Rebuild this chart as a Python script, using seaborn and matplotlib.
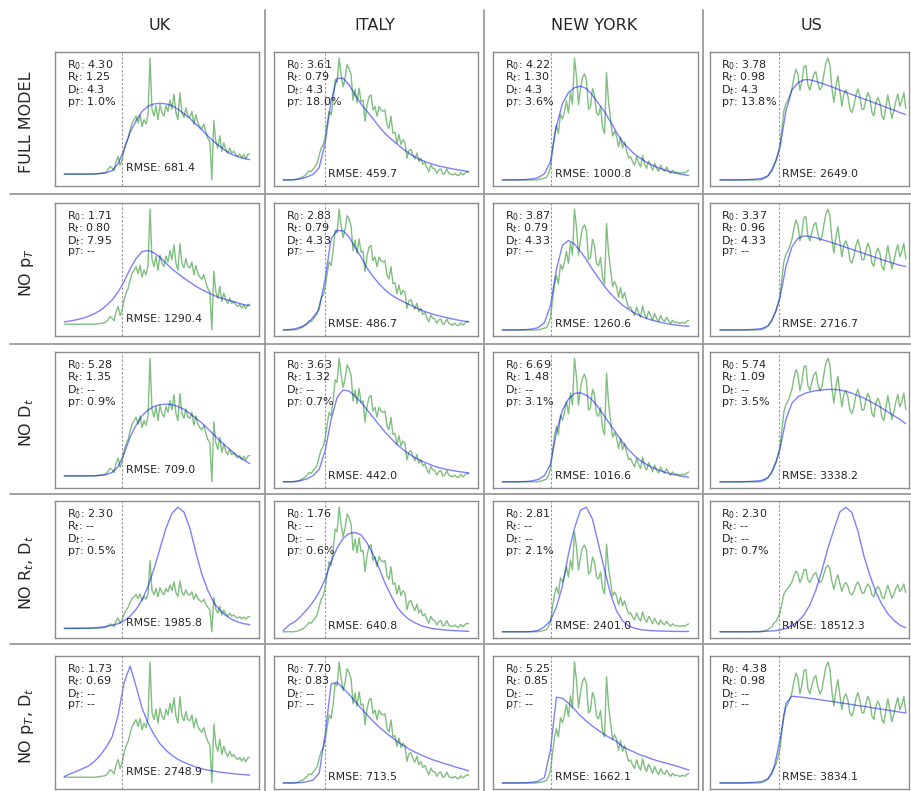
import numpy as np
import pandas as pd
import matplotlib
matplotlib.use("Agg")
import matplotlib.pyplot as plt
from matplotlib.lines import Line2D
import seaborn as sns

# ---------------- data ----------------
countries = ["UK", "ITALY", "NEW YORK", "US"]
models = ["FULL MODEL", "NO p$_T$", "NO D$_t$", "NO R$_t$, D$_t$", "NO p$_T$, D$_t$"]

days = list(range(94))
fit_days = list(range(0, 94, 3))

uk_cases = [0, 0, 0, 0, 0, 0, 0, 0, 0, 0, 0, 0, 0, 0, 0, 0,
            0, 0.5, 0.5, 1, 1, 2, 3.8, 6.6, 5.2, 2.9, 11, 15.3, 7.5, 12.4,
            21, 27, 31, 38, 44, 47, 50, 44, 51, 41, 47, 43, 51, 100, 56,
            50, 59, 47, 60, 53, 50, 59, 54, 64, 56, 69, 53, 47, 70, 53,
            49, 57, 50, 49, 54, 43, 51, 44, 41, 39, 43, 36, 31, 28, -5,
            46, 28, 22.5, 33, 19.7, 27, 21, 18, 22.5, 18, 19.7, 16.8, 15.3, 17.3, 13.9,
            16.8, 13.3, 16.8, 17.3]
italy_cases = [0, 0, 0, 0, 0, 0, 0.3, 0.5, 1, 2, 2.5, 4, 5.5, 7.5, 6.8, 9, 11, 13.6, 20, 26,
               28.6, 35, 46, 56, 53, 65, 82, 80, 99.5, 86, 76, 83, 94, 91, 86, 65, 74, 63, 75, 64,
               65, 48, 61, 68, 69.5, 57, 60, 52, 60, 57, 56, 57, 45, 42, 52, 38, 39, 30, 37, 29,
               32.7, 31, 17.7, 24, 25, 20.4, 17, 22, 15, 17.7, 12.8, 14.4, 10, 6.8, 12.3, 9.5, 9, 5.4, 8.2, 9,
               4.6, 5.4, 9, 5.4, 4.6, 4, 5.4, 4, 3.5, 6, 4, 5.4, 6.8, 6.3]
ny_cases = [0, 0, 0, 0, 0, 0, 0, 0, 0, 0, 0, 0, 0, 0, 0, 0, 0, 0, 0.3, 0.5,
            1, 1.5, 2, 5, 10, 24, 37, 45, 38, 54, 50, 56, 65, 55, 72, 62, 100, 85, 62, 75,
            84, 87, 82, 58, 60, 75, 70, 55, 53, 60, 43.5, 38, 88, 64, 50, 36, 40, 36, 27, 35,
            26, 31, 24, 18, 19, 15, 12, 19, 14, 10.6, 20, 13, 9.5, 15.5, 12, 8, 13.6, 9.5, 7, 12,
            8.5, 7, 10.6, 7.5, 5.5, 8, 6, 6.5, 5.7, 5.5, 6.3, 5.5, 7, 8]
us_cases = [0, 0, 0, 0, 0, 0, 0, 0, 0, 0, 0, 0, 0, 0, 0, 0, 0, 0, 0, 0,
            0, 0.5, 1, 2, 3.3, 5.5, 7, 13, 15, 21, 28, 42, 56, 62, 64.5, 69, 74, 83, 90, 86,
            73, 80, 92, 93, 77, 73, 80, 86, 88, 78.6, 73, 76, 86, 95, 99, 93.5, 75, 63, 76, 84.6,
            72, 60, 70, 73, 68, 57.5, 54.7, 60, 69, 74, 68, 57.5, 57.5, 65, 71, 67, 55, 52, 62.5, 67,
            63, 52, 49, 59, 69, 60, 50, 56, 64, 70, 60, 64, 71, 58]

uk_fits = [
    [0, 0, 0, 0, 0, 0.2, 0.5, 1, 3, 9, 21, 36, 46, 54, 58.5, 60.5, 61, 60.5, 59, 56, 52, 48, 43, 38, 33, 28, 24, 20, 17, 15, 13.5, 12.5],
    [2, 2.8, 3.8, 5, 6.8, 9, 12, 16, 21, 28, 37, 48, 57, 63, 64, 62, 58, 53, 48, 44, 40, 36.5, 33, 30, 27.5, 25, 23, 21.5, 20, 18.5, 17, 16],
    [0, 0, 0, 0, 0, 0.2, 0.5, 1, 3, 8, 19, 33, 43, 51, 56, 59, 60.5, 61, 60.5, 59, 56.5, 53, 49, 45, 40, 35, 30, 25.5, 21, 17, 13.5, 10.5],
    [0, 0, 0.1, 0.3, 0.5, 1, 1.7, 2.8, 4.5, 7, 11, 18, 28, 42, 62, 88, 118, 148, 170, 179, 172, 148, 112, 80, 56, 38, 27, 19, 13.5, 9.5, 7, 5.5],
    [0.6, 3, 5, 7.3, 9.6, 13.5, 19, 26, 35, 54, 82, 96.5, 79, 60, 47, 37, 29, 23.4, 19, 15.5, 12.9, 10.8, 8.8, 7.3, 6.1, 5.3, 4.4, 3.8, 3.2, 2.6, 2.3, 1.8],
]
italy_fits = [
    [0, 0, 0.3, 1, 2.5, 4.5, 10, 30, 65, 83, 83, 77.7, 69.5, 62, 56, 50, 43.6, 38, 33.5, 29.4, 25.3, 21.8, 18.8, 16.3, 14.4, 12.8, 11.4, 10.4, 9.3, 8.4, 7.6, 6.8],
    [0, 0.3, 1, 2.5, 5, 10.5, 17, 42, 75, 82, 81.5, 76.6, 68, 60, 51, 44, 38, 33, 29, 26, 23.4, 21, 18.7, 16.5, 14.6, 13, 11.6, 10.5, 9.4, 8.3, 7.4, 6.9],
    [0, 0, 0.3, 1, 2.5, 5, 10, 25, 50, 68, 74, 73, 69, 64, 58, 52, 46, 40, 35, 30, 26, 22.5, 19.5, 17, 15, 13, 11.5, 10.3, 9.3, 8.5, 7.8, 7.2],
    [1, 5.5, 8.3, 12.7, 18, 24, 31.7, 42, 56, 67, 74.6, 78.5, 79.3, 77.4, 71, 62, 51, 39, 29, 20, 14, 10, 7.2, 5, 3.6, 2.5, 2, 1.4, 1.1, 0.8, 0.6, 0.3],
    [0, 0, 0, 0.3, 1, 2.5, 8, 40, 81.4, 82.8, 78, 73, 67, 61.5, 56, 51, 46, 42, 38, 34.4, 31, 28, 25.4, 23.2, 21, 19, 17.5, 15.8, 14.5, 12.8, 11.5, 10],
]
ny_fits = [
    [0, 0, 0, 0.1, 0.3, 0.8, 2, 5, 15, 44, 62.7, 71.7, 75.7, 77, 75, 69.5, 62.7, 56, 47.7, 39, 31.3, 26, 21, 17.7, 14.4, 12, 9.8, 8.2, 6.5, 5.4, 4.4, 3.5],
    [0, 0, 0, 0.1, 0.3, 0.8, 2, 6, 20, 50, 70, 74, 71, 65, 58, 50, 43, 36, 30, 25, 20.5, 17, 14, 11.5, 9.5, 8, 6.7, 5.6, 4.7, 4, 3.4, 3],
    [0, 0, 0, 0.1, 0.3, 0.8, 2, 5, 14, 40, 58, 67, 71.5, 72, 70, 66, 60, 53, 46, 39, 32, 26, 21, 17, 14, 11.5, 9.5, 7.8, 6.4, 5.3, 4.4, 3.7],
    [0, 0, 0, 0, 0, 0.3, 1.5, 5, 11, 25, 46, 78, 104, 122, 125, 113, 88, 62, 38, 21, 11, 6, 3.5, 2.2, 1.5, 1.1, 0.8, 0.6, 0.5, 0.4, 0.3, 0.3],
    [0, 0, 0, 0, 0.2, 0.5, 1.5, 4.5, 27, 71, 70, 66, 61, 55.5, 51, 47, 43.5, 40, 37, 34.4, 30, 27.6, 25.4, 23, 21.5, 19.6, 18, 16.7, 15.3, 14, 12.3, 10.7],
]
us_fits = [
    [0, 0, 0, 0, 0.1, 0.3, 0.6, 1.2, 3.3, 11, 26, 56, 73, 79, 81.4, 81.4, 80, 78.5, 76.8, 75, 73, 71.2, 69.4, 67.6, 65.8, 64, 62.2, 60.4, 58.5, 56.7, 54.8, 53],
    [0, 0, 0, 0, 0.1, 0.3, 0.6, 1.2, 3.3, 11, 26, 52, 68, 75, 77, 76.5, 75.5, 74, 72.5, 71, 69.3, 67.6, 66, 64.3, 62.6, 61, 59.3, 57.6, 56, 54.5, 53, 52],
    [0, 0, 0, 0, 0.1, 0.3, 0.6, 1.2, 3.3, 11, 26, 50, 63, 68, 70.5, 72, 73, 73.5, 74, 74, 73.5, 72.5, 71, 69, 67, 64.5, 62, 59, 56, 53, 50, 46.5],
    [0, 0, 0, 0, 0, 0, 0.2, 0.4, 0.8, 1.5, 2.5, 5, 9, 15, 25, 40, 62, 91, 124, 152, 178, 185, 177, 150, 113, 84, 59, 41, 27, 17, 10, 6],
    [0, 0, 0, 0, 0.1, 0.3, 0.6, 1.2, 3.3, 12, 35, 65, 71, 70.5, 70, 69.3, 68.6, 67.9, 67.2, 66.5, 65.7, 65, 64.2, 63.4, 62.7, 61.9, 61.1, 60.4, 59.6, 58.8, 58, 57.3],
]

intervention_day = [29, 20.7, 24.5, 29.3]

r0_vals = [["4.30", "1.71", "5.28", "2.30", "1.73"],
           ["3.61", "2.83", "3.63", "1.76", "7.70"],
           ["4.22", "3.87", "6.69", "2.81", "5.25"],
           ["3.78", "3.37", "5.74", "2.30", "4.38"]]
rt_vals = [["1.25", "0.80", "1.35", "--", "0.69"],
           ["0.79", "0.79", "1.32", "--", "0.83"],
           ["1.30", "0.79", "1.48", "--", "0.85"],
           ["0.98", "0.96", "1.09", "--", "0.98"]]
dt_vals = [["4.3", "7.95", "--", "--", "--"],
           ["4.3", "4.33", "--", "--", "--"],
           ["4.3", "4.33", "--", "--", "--"],
           ["4.3", "4.33", "--", "--", "--"]]
pt_vals = [["1.0%", "--", "0.9%", "0.5%", "--"],
           ["18.0%", "--", "0.7%", "0.6%", "--"],
           ["3.6%", "--", "3.1%", "2.1%", "--"],
           ["13.8%", "--", "3.5%", "0.7%", "--"]]
rmse_vals = [["681.4", "1290.4", "709.0", "1985.8", "2748.9"],
             ["459.7", "486.7", "442.0", "640.8", "713.5"],
             ["1000.8", "1260.6", "1016.6", "2401.0", "1662.1"],
             ["2649.0", "2716.7", "3338.2", "18512.3", "3834.1"]]

cases_all = [uk_cases, italy_cases, ny_cases, us_cases]
fits_all = [uk_fits, italy_fits, ny_fits, us_fits]

# ---------------- layout (pixels) ----------------
W, H = 911, 791
col_left = [55, 274, 493, 710]
col_w = [204, 204, 205, 199]
col_title_x = [160, 375, 594, 811]
row_top = [52, 203, 352, 501, 656]
row_h = [134, 133, 136, 137, 133]

sns.set_style("white")
plt.rcParams['font.family'] = ['DejaVu Sans']
plt.rcParams['mathtext.fontset'] = 'dejavusans'

fig = plt.figure(figsize=(W / 100, H / 100), dpi=100)
fig.patch.set_facecolor("white")

line_col = "#9a9a9a"
for x in [265, 484, 703]:
    fig.add_artist(Line2D([x / W, x / W], [0, 1 - 10 / H], color=line_col, lw=1.3, transform=fig.transFigure))
for y in [193.5, 344, 494, 644]:
    fig.add_artist(Line2D([10 / W, 1], [1 - y / H, 1 - y / H], color=line_col, lw=1.3, transform=fig.transFigure))

for c, country in enumerate(countries):
    fig.text(col_title_x[c] / W, 1 - 25 / H, country, ha="center", va="center", fontsize=11.5)
    for r, model in enumerate(models):
        l, t, w, h = col_left[c], row_top[r], col_w[c], row_h[r]
        ax = fig.add_axes([l / W, 1 - (t + h) / H, w / W, h / H])
        df_obs = pd.DataFrame({"day": days, "cases": cases_all[c]})
        df_fit = pd.DataFrame({"day": fit_days, "cases": fits_all[c][r]})
        sns.lineplot(data=df_obs, x="day", y="cases", color="green", alpha=0.5, lw=1.0, ax=ax)
        sns.lineplot(data=df_fit, x="day", y="cases", color="blue", alpha=0.5, lw=1.0, ax=ax)
        ax.axvline(intervention_day[c], color="gray", ls=(0, (2.2, 1.6)), lw=0.8, alpha=0.8)
        if c == 3:
            # right-most column is clipped close to the data end
            ax.set_xlim(-5.0, 94.6)
        ax.set_xticks([])
        ax.set_yticks([])
        ax.set_xlabel("")
        ax.set_ylabel("")
        for s in ax.spines.values():
            s.set_color("#8c8c8c")
            s.set_linewidth(1.0)
        lines = [f"R$_0$: {r0_vals[c][r]}", f"R$_t$: {rt_vals[c][r]}",
                 f"D$_t$: {dt_vals[c][r]}", f"p$_T$: {pt_vals[c][r]}"]
        for i, s in enumerate(lines):
            ax.annotate(s, xy=(0.05, 1.0), xycoords="axes fraction",
                        xytext=(1, -4.5 - i * 8.9), textcoords="offset points",
                        ha="left", va="top", fontsize=8)
        ax.annotate(f"RMSE: {rmse_vals[c][r]}", xy=(intervention_day[c], 0), xycoords="data",
                    xytext=(2.5, 0.5), textcoords="offset points", ha="left", va="bottom", fontsize=7.8)
        if c == 0:
            fig.text(27 / W, 1 - (t + h / 2 + 3) / H, model, rotation=90,
                     ha="center", va="center", fontsize=11.5)

fig.savefig("out.png", dpi=100, facecolor="white")
